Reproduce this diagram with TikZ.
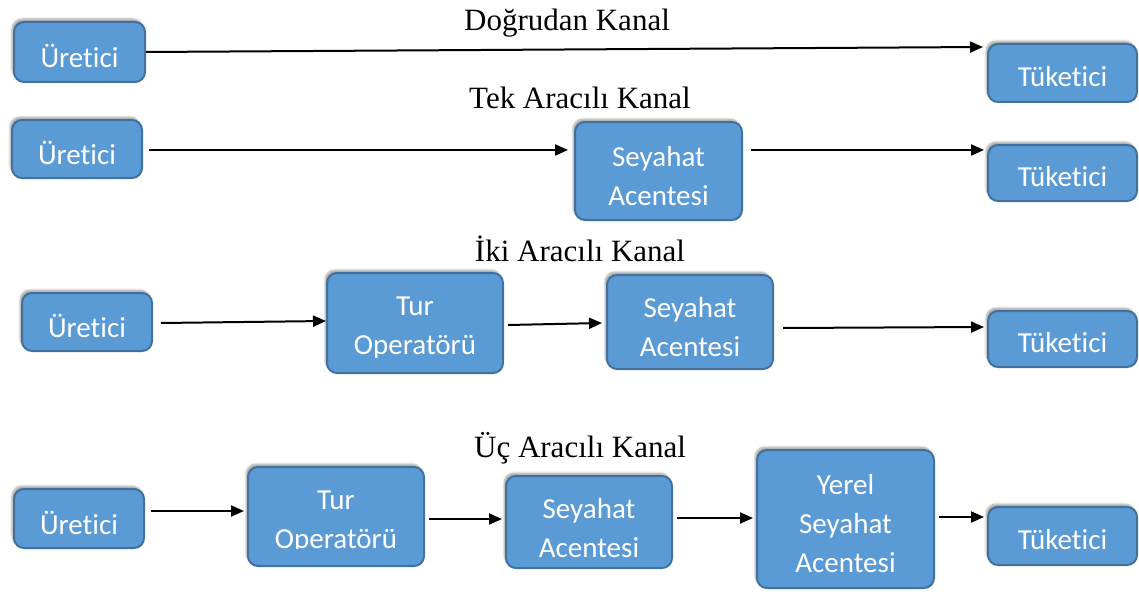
\documentclass[tikz,border=0pt]{standalone}
\usepackage{fontspec}
\setmainfont{Liberation Serif}
\newfontfamily\boxfont[Ligatures=NoCommon]{Carlito}
\usetikzlibrary{arrows.meta,shadows.blur}
\definecolor{boxfill}{HTML}{5B9BD5}
\definecolor{boxline}{HTML}{41719C}
\begin{document}
\begin{tikzpicture}[x=1pt,y=-1pt,
  stepbox/.style={rectangle,rounded corners=10pt,fill=boxfill,draw=boxline,line width=2pt,
    inner sep=0pt,
    blur shadow={shadow xshift=-2pt,shadow yshift=3pt,shadow blur steps=6,shadow opacity=35}},
  boxtext/.style={text=white,align=center,inner sep=0pt,
    font=\boxfont\fontsize{29}{39}\selectfont},
  title/.style={font=\fontsize{31}{36}\selectfont,anchor=base},
  arr/.style={line width=2pt,-{Triangle[length=13pt,width=11pt]}}]
\useasboundingbox (0,0) rectangle (1139,591);
% titles
\node[title] (h1) at (567,31) {Doğrudan Kanal};
\node[title] (h2) at (580,109) {Tek Aracılı Kanal};
\node[title] (h3) at (580,261) {İki Aracılı Kanal};
\node[title] (h4) at (580,457) {Üç Aracılı Kanal};
% row 1
\node[stepbox,minimum width=131pt,minimum height=60pt,label={[boxtext,yshift=-4pt]center:Üretici}] (u1) at (79.5,52) {};
\node[stepbox,minimum width=149pt,minimum height=58pt,label={[boxtext,yshift=-4pt]center:Tüketici}] (t1) at (1062.5,73) {};
\draw[arr] (u1.east) -- ([xshift=-4pt,yshift=-4pt]t1.north west);
% row 2
\node[stepbox,minimum width=130pt,minimum height=58pt,label={[boxtext,yshift=-4pt]center:Üretici}] (u2) at (77,149) {};
\node[stepbox,minimum width=167pt,minimum height=98pt,label={[boxtext,yshift=-5pt]center:Seyahat\\Acentesi}] (s2) at (658.5,171) {};
\node[stepbox,minimum width=149pt,minimum height=56pt,label={[boxtext,yshift=-4pt]center:Tüketici}] (t2) at (1062.5,173) {};
\draw[arr] ([xshift=6pt,yshift=-1pt]u2.east) -- ([xshift=-6pt,yshift=21pt]s2.west);
\draw[arr] ([xshift=8pt,yshift=21pt]s2.east) -- ([xshift=-3pt,yshift=23pt]t2.west);
% row 3
\node[stepbox,minimum width=130pt,minimum height=58pt,label={[boxtext,yshift=-4pt]center:Üretici}] (u3) at (87,322) {};
\node[stepbox,minimum width=176pt,minimum height=100pt] (tur3) at (415,323) {};
\begin{scope}
  \clip (300,270) rectangle (520,357);
  \node[boxtext] (tur3txt) at (415,328) {Tur\\Operatörü};
\end{scope}
\node[stepbox,minimum width=166pt,minimum height=94pt,label={[boxtext,yshift=-5pt]center:Seyahat\\Acentesi}] (sa3) at (690,322) {};
\node[stepbox,minimum width=149pt,minimum height=56pt,label={[boxtext,yshift=-4pt]center:Tüketici}] (t3) at (1062.5,339) {};
\draw[arr] ([xshift=8pt,yshift=-1pt]u3.east) -- ([yshift=2pt]tur3.west);
\draw[arr] ([xshift=4pt,yshift=-2pt]tur3.east) -- ([xshift=-4pt,yshift=-1pt]sa3.west);
\draw[arr] ([xshift=9pt,yshift=-6pt]sa3.east) -- ([xshift=-3pt,yshift=12pt]t3.west);
% row 4
\node[stepbox,minimum width=130pt,minimum height=59pt,label={[boxtext,yshift=-4pt]center:Üretici}] (u4) at (79,518.5) {};
\node[stepbox,minimum width=176pt,minimum height=99pt] (tur4) at (336,516.5) {};
\begin{scope}
  \clip (220,460) rectangle (440,548);
  \node[boxtext] (tur4txt) at (336,522) {Tur\\Operatörü};
\end{scope}
\node[stepbox,minimum width=166pt,minimum height=92pt,label={[boxtext,yshift=-6pt]center:Seyahat\\Acentesi}] (sa4) at (589,522) {};
\node[stepbox,minimum width=177pt,minimum height=138pt,label={[boxtext,yshift=-5pt]center:Yerel\\Seyahat\\Acentesi}] (y4) at (845.5,519) {};
\node[stepbox,minimum width=149pt,minimum height=58pt,label={[boxtext,yshift=-4pt]center:Tüketici}] (t4) at (1062.5,536) {};
\draw[arr] ([xshift=6pt,yshift=7.5pt]u4.east) -- ([xshift=-3pt,yshift=5.5pt]tur4.west);
\draw[arr] ([xshift=4pt,yshift=-2.5pt]tur4.east) -- ([xshift=-3pt,yshift=3pt]sa4.west);
\draw[arr] ([xshift=4pt,yshift=4pt]sa4.east) -- ([xshift=-3pt,yshift=1pt]y4.west);
\draw[arr] ([xshift=4pt,yshift=2pt]y4.east) -- ([xshift=-3pt,yshift=19pt]t4.west);
\end{tikzpicture}
\end{document}
